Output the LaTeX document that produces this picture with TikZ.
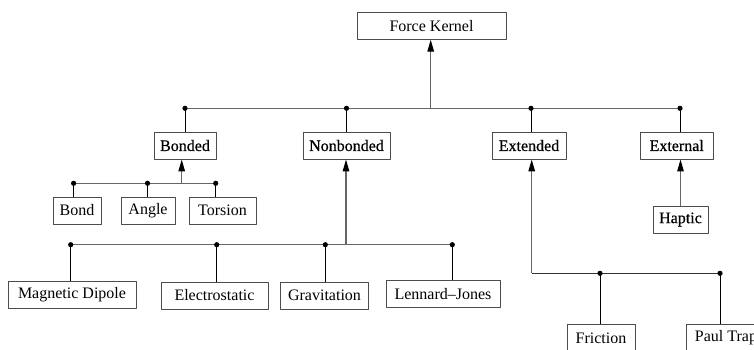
\documentclass[tikz,border=0pt]{standalone}
\usepackage{fontspec}
\setmainfont{Liberation Serif}
\newfontfamily\heavy{Liberation Serif}[FakeBold=0.5]
\usetikzlibrary{arrows.meta}
\tikzset{
	box/.style={draw=black!70,line width=0.9pt,minimum height=27pt,inner sep=0pt},
	cat/.style={box,font=\heavy\fontsize{16}{19}\selectfont},
	bus/.style={draw=black!60,line width=1.5pt},
	leg/.style={draw=black,line width=0.9pt},
	up/.style={draw=black!60,line width=1.3pt,-{Triangle[length=12pt,width=6.5pt,color=black]}}
}
\begin{document}
\begin{tikzpicture}[x=1pt,y=-1pt,font=\fontsize{16}{19}\selectfont,line join=round]
	\clip (0,0) rectangle (754,349);
	% boxes
	\node[box,minimum width=149pt] (kernel) at (431.5,25.7) {Force Kernel};
	\node[cat,minimum width=62pt] (bonded) at (185,145.5) {Bonded};
	\node[cat,minimum width=87pt] (nonbonded) at (346.5,145.5) {Nonbonded};
	\node[cat,minimum width=74pt] (extended) at (529,145.5) {Extended};
	\node[cat,minimum width=73pt] (external) at (676.7,145.5) {External};
	\node[box,minimum width=48pt] (bond) at (77,210.5) {Bond};
	\node[box,minimum width=54pt] (angle) at (148,210.5) {Angle};
	\node[box,minimum width=67pt] (torsion) at (222.5,210.5) {Torsion};
	\node[cat,minimum width=55pt] (haptic) at (680.5,219.5) {Haptic};
	\node[box,minimum width=128pt] (dipole) at (72,295) {Magnetic Dipole};
	\node[box,minimum width=107pt] (electro) at (214.5,295.5) {Electrostatic};
	\node[box,minimum width=88pt] (gravit) at (324.5,295.5) {Gravitation};
	\node[box,minimum width=114pt] (lj) at (443,294.2) {Lennard--Jones};
	\node[box,minimum width=68pt] (friction) at (601,338) {Friction};
	\node[box,minimum width=80pt] (trap) at (726,337.5) {Paul Trap};
	% junctions
	\coordinate (tk) at (430.7,108.3);
	\coordinate (tb) at (185,108.3);
	\coordinate (tn) at (346.5,108.3);
	\coordinate (te) at (531,108.3);
	\coordinate (tx) at (680,108.3);
	\coordinate (bk) at (181.7,183.3);
	\coordinate (bb) at (73.6,183.3);
	\coordinate (ba) at (147.5,183.3);
	\coordinate (bt) at (215.7,183.3);
	\coordinate (nk) at (346,244.7);
	\coordinate (nm) at (70.7,244.7);
	\coordinate (ne) at (216.7,244.7);
	\coordinate (ng) at (325.3,244.7);
	\coordinate (nl) at (452.3,244.7);
	\coordinate (ek) at (531.7,273.3);
	\coordinate (ef) at (600,273.3);
	\coordinate (ep) at (720,273.3);
	% buses
	\draw[bus] (tb) -- (tx);
	\draw[bus] (bb) -- (bt);
	\draw[bus] (nm) -- (nl);
	\draw[bus,draw=black!80] (ek) -- (ep);
	% arrows up
	\draw[up] (tk) -- (tk |- kernel.south);
	\draw[up] (bk) -- (bk |- bonded.south);
	\draw[up] (nk) -- (nk |- nonbonded.south);
	\draw[up] (ek) -- (ek |- extended.south);
	\draw[up] (haptic.north) -- (haptic.north |- external.south);
	% legs
	\foreach \d/\n in {tb/bonded,tn/nonbonded,te/extended,tx/external,bb/bond,ba/angle,bt/torsion,nm/dipole,ne/electro,ng/gravit,nl/lj,ef/friction,ep/trap}{
		\draw[leg] (\d) -- (\d |- \n.north);
		\fill (\d) circle (2.6pt);}
\end{tikzpicture}
\end{document}
